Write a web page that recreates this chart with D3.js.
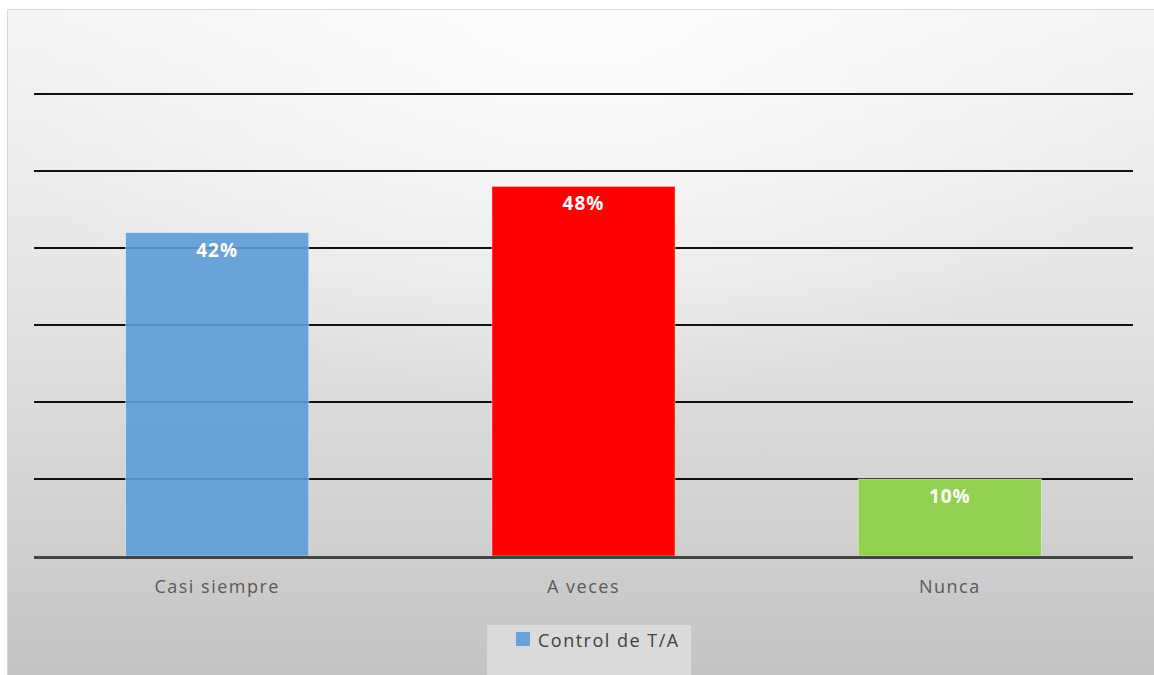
<!DOCTYPE html>
<html>
<head>
<meta charset="utf-8">
<script src="https://cdn.jsdelivr.net/npm/d3@7"></script>
<style>
  html, body { margin: 0; padding: 0; background: #ffffff; }
  svg { display: block; }
</style>
</head>
<body>
<div id="chart"></div>
<script>
// Survey answers for blood-pressure control (percent)
const categories = ["Casi siempre", "A veces", "Nunca"];
const values = [42, 48, 10];
const barColors = ["#5b9bd5", "#ff0000", "#92d050"];
const barOpacity = [0.9, 1, 1];
const gridTicks = [0, 10, 20, 30, 40, 50, 60];
const seriesName = "Control de T/A";

const W = 1154, H = 675;
const margin = { left: 34, right: 21, top: 94, bottom: 119 };
const font = "'Open Sans', sans-serif";

const svg = d3.select("#chart").append("svg")
  .attr("width", W).attr("height", H);

const defs = svg.append("defs");
const lin = defs.append("linearGradient").attr("id", "bg")
  .attr("x1", 0).attr("y1", 0).attr("x2", 0).attr("y2", 1);
lin.append("stop").attr("offset", "0%").attr("stop-color", "#f4f4f4");
lin.append("stop").attr("offset", "40%").attr("stop-color", "#e6e6e6");
lin.append("stop").attr("offset", "100%").attr("stop-color", "#c4c4c4");

const rad = defs.append("radialGradient").attr("id", "glow")
  .attr("cx", "50%").attr("cy", "0%").attr("r", "60%")
  .attr("gradientTransform", "translate(0.05,0) scale(0.9,1)");
rad.append("stop").attr("offset", "0%").attr("stop-color", "#ffffff").attr("stop-opacity", 0.85);
rad.append("stop").attr("offset", "100%").attr("stop-color", "#ffffff").attr("stop-opacity", 0);

// chart area background
svg.append("rect").attr("x", 7).attr("y", 9).attr("width", W - 7).attr("height", H - 9)
  .attr("fill", "url(#bg)");
svg.append("rect").attr("x", 7).attr("y", 9).attr("width", W - 7).attr("height", H - 9)
  .attr("fill", "url(#glow)");
svg.append("path")
  .attr("d", `M7.5,${H} V9.5 H${W}`)
  .attr("fill", "none").attr("stroke", "#d9d9d9").attr("stroke-width", 1);

const x = d3.scaleBand().domain(categories)
  .range([margin.left, W - margin.right]).paddingInner(0.5).paddingOuter(0.25);
const y = d3.scaleLinear().domain([0, 60])
  .range([H - margin.bottom, margin.top]);

// horizontal gridlines
svg.append("g").selectAll("line").data(gridTicks.filter(d => d > 0)).join("line")
  .attr("x1", margin.left).attr("x2", W - margin.right)
  .attr("y1", d => y(d)).attr("y2", d => y(d))
  .attr("stroke", "#111").attr("stroke-width", 2);

// bars
svg.append("g").selectAll("rect").data(values).join("rect")
  .attr("x", (d, i) => x(categories[i]))
  .attr("width", x.bandwidth())
  .attr("y", d => y(d))
  .attr("height", d => y(0) - y(d))
  .attr("fill", (d, i) => barColors[i])
  .attr("fill-opacity", (d, i) => barOpacity[i])
  .attr("stroke", "rgba(255,255,255,0.45)").attr("stroke-width", 1);

// baseline axis
const xAxis = svg.append("g")
  .attr("transform", `translate(0,${y(0)})`)
  .call(d3.axisBottom(x).tickSize(0).tickPadding(24));
xAxis.select(".domain").attr("stroke", "#444").attr("stroke-width", 3)
  .attr("d", `M${margin.left},1.5H${W - margin.right}`);
xAxis.selectAll("text")
  .attr("font-family", font).attr("font-size", 18)
  .attr("letter-spacing", 1.5)
  .attr("fill", "#595959");

// value labels inside bars
svg.append("g").selectAll("text").data(values).join("text")
  .attr("x", (d, i) => x(categories[i]) + x.bandwidth() / 2)
  .attr("y", d => y(d) + 24)
  .attr("text-anchor", "middle")
  .attr("font-family", font).attr("font-weight", "bold")
  .attr("font-size", 19).attr("letter-spacing", 1).attr("fill", "#ffffff")
  .text(d => d + "%");

// legend
const lg = svg.append("g");
lg.append("rect").attr("x", 487).attr("y", 625).attr("width", 204).attr("height", 50)
  .attr("fill", "#dadada");
lg.append("rect").attr("x", 516).attr("y", 632).attr("width", 14).attr("height", 14)
  .attr("fill", barColors[0]).attr("fill-opacity", 0.9);
lg.append("text").attr("x", 538).attr("y", 647)
  .attr("font-family", font).attr("font-size", 18)
  .attr("letter-spacing", 1.5)
  .attr("fill", "#404040").text(seriesName);
</script>
</body>
</html>
